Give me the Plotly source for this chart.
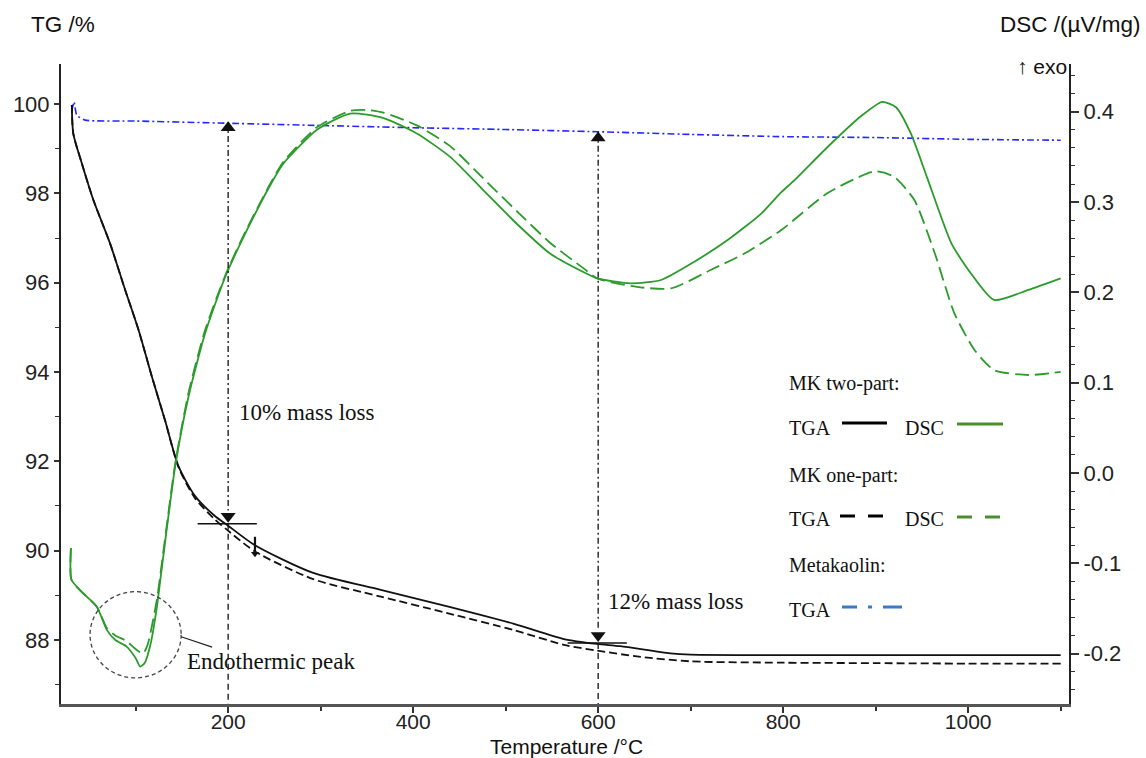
import plotly.graph_objects as go

# ---------------- data ----------------
# MK two-part TGA (solid black), TG %
tga_two_T = [31, 32.6, 41.7, 54.3, 72.3, 88.6, 103, 117.5, 132, 146.3, 164.3, 186, 198.6,
             229, 292, 365, 437, 509, 563, 599, 624, 678, 700, 800, 900, 1000, 1100]
tga_two = [99.98, 99.34, 98.68, 97.85, 96.88, 95.84, 94.95, 93.9, 92.9, 91.89, 91.22, 90.77, 90.58,
           90.12, 89.5, 89.12, 88.75, 88.36, 88.02, 87.91, 87.86, 87.70, 87.67, 87.66, 87.66, 87.66, 87.66]

# MK one-part TGA (dashed black), TG %
tga_one_T = [31, 32.6, 41.7, 54.3, 72.3, 88.6, 103, 117.5, 132, 146.3, 164.3, 186, 198.6,
             229, 292, 365, 437, 509, 563, 599, 646, 700, 800, 900, 1000, 1100]
tga_one = [99.98, 99.34, 98.68, 97.85, 96.88, 95.84, 94.95, 93.9, 92.9, 91.87, 91.17, 90.69, 90.47,
           89.98, 89.36, 88.97, 88.6, 88.22, 87.89, 87.76, 87.62, 87.52, 87.49, 87.48, 87.47, 87.47]

# Metakaolin TGA (blue dash-dot), TG %
mk_T = [31, 33.4, 36.3, 45.3, 100, 200, 300, 400, 500, 600, 700, 800, 900, 1000, 1100]
mk_tga = [99.85, 100.05, 99.75, 99.64, 99.62, 99.57, 99.52, 99.47, 99.43, 99.38, 99.32, 99.27, 99.25, 99.21, 99.19]

# MK two-part DSC (solid green), uV/mg
dsc_two_T = [30, 30.5, 40, 58, 69, 78, 90, 100, 105, 110, 116, 123, 128.3, 142.7, 157.1, 175.2,
             196.8, 218.4, 247.3, 260, 296, 332, 368, 404, 440, 476, 512, 548, 585, 599, 635, 668,
             704, 740, 776, 798, 812, 848, 884, 907, 922, 938, 956, 982, 1003, 1028, 1065, 1100]
dsc_two = [-0.083, -0.118, -0.130, -0.148, -0.174, -0.185, -0.192, -0.205, -0.2145, -0.210, -0.190,
           -0.148, -0.105, 0.007, 0.0845, 0.155, 0.217, 0.265, 0.322, 0.343, 0.380, 0.398, 0.393,
           0.376, 0.350, 0.313, 0.276, 0.243, 0.222, 0.2155, 0.210, 0.2137, 0.234, 0.258, 0.287,
           0.311, 0.324, 0.361, 0.395, 0.411, 0.405, 0.376, 0.326, 0.254, 0.221, 0.1916, 0.2027, 0.2155]

# MK one-part DSC (dashed green), uV/mg
dsc_one_T = [30, 30.5, 40, 58, 69, 78, 90, 100, 108, 113, 123, 128.3, 142.7, 157, 175, 197, 218,
             247, 260, 296, 332, 350, 368, 404, 440, 476, 512, 548, 585, 599, 642, 679, 722, 758,
             798, 848, 899, 920, 942, 964, 985, 1007, 1028, 1065, 1100]
dsc_one = [-0.083, -0.118, -0.130, -0.148, -0.172, -0.180, -0.186, -0.195, -0.200, -0.190, -0.140,
           -0.100, 0.010, 0.088, 0.158, 0.219, 0.266, 0.323, 0.345, 0.383, 0.401, 0.402, 0.399,
           0.385, 0.362, 0.326, 0.290, 0.255, 0.226, 0.2155, 0.206, 0.2045, 0.225, 0.243, 0.269,
           0.310, 0.334, 0.328, 0.302, 0.243, 0.177, 0.136, 0.114, 0.1085, 0.112]

# axis ticks
x_ticks = [200, 400, 600, 800, 1000]
x_minor = [100, 300, 500, 700, 900, 1100]
tg_ticks = [88, 90, 92, 94, 96, 98, 100]
tg_minor = [87, 89, 91, 93, 95, 97, 99]
dsc_ticks = [-0.2, -0.1, 0.0, 0.1, 0.2, 0.3, 0.4]
dsc_ticktext = ['-0.2', '-0.1', '0.0', '0.1', '0.2', '0.3', '0.4']
dsc_minor = [round(-0.24 + 0.02 * i, 2) for i in range(35)]

# mass-loss markers
loss_T = [200, 600]
loss_top = [99.6, 99.38]
loss_level = [90.6, 87.93]
loss_labels = ['10% mass loss', '12% mass loss']

# ---------------- figure ----------------
W, H = 1146, 758
L, R, T, B = 61, 77, 64, 54
PW, PH = W - L - R, H - T - B


def px(x):
    return (x - L) / PW


def py(y):
    return (H - B - y) / PH


SANS = 'Liberation Sans, Arial, sans-serif'
SERIF = 'Liberation Serif, Times New Roman, serif'
GREEN = '#2b9b2b'
BLUE = '#2727ff'

fig = go.Figure()

fig.add_trace(go.Scatter(x=mk_T, y=mk_tga, mode='lines', yaxis='y',
                         line=dict(color=BLUE, width=1.6, dash='7px,3px,2px,3px', shape='spline', smoothing=0.5)))
fig.add_trace(go.Scatter(x=tga_one_T, y=tga_one, mode='lines', yaxis='y',
                         line=dict(color='#111', width=1.8, dash='8px,4px', shape='spline', smoothing=0.7)))
fig.add_trace(go.Scatter(x=tga_two_T, y=tga_two, mode='lines', yaxis='y',
                         line=dict(color='#111', width=1.8, shape='spline', smoothing=0.7)))
fig.add_trace(go.Scatter(x=dsc_one_T, y=dsc_one, mode='lines', yaxis='y2',
                         line=dict(color=GREEN, width=1.8, dash='14px,6px', shape='spline', smoothing=0.6)))
fig.add_trace(go.Scatter(x=dsc_two_T, y=dsc_two, mode='lines', yaxis='y2',
                         line=dict(color=GREEN, width=1.8, shape='spline', smoothing=0.6)))

shapes = []
for t, top, lvl in zip(loss_T, loss_top, loss_level):
    shapes.append(dict(type='line', xref='x', yref='y', x0=t, x1=t, y0=top, y1=lvl + 0.3,
                       line=dict(color='#111', width=1.3, dash='6px,3px,2px,3px')))
    shapes.append(dict(type='line', xref='x', yref='y', x0=t, x1=t, y0=lvl, y1=86.0,
                       line=dict(color='#111', width=1.3, dash='6px,4px')))
    shapes.append(dict(type='line', xref='x', yref='y', x0=t - 33, x1=t + 31, y0=lvl, y1=lvl,
                       line=dict(color='#111', width=1.6)))
# small arrow on the curve near 229 C
shapes.append(dict(type='line', xref='x', yref='y', x0=229, x1=229, y0=90.31, y1=89.95,
                   line=dict(color='#111', width=2.2)))
# dashed circle around endothermic peak
shapes.append(dict(type='circle', xref='x', yref='y', x0=50.7, x1=149.2, y0=87.15, y1=89.08,
                   line=dict(color='#444', width=1.3, dash='4px,3px')))
shapes.append(dict(type='line', xref='x', yref='y', x0=149.2, x1=182.7, y0=88.07, y1=87.84,
                   line=dict(color='#222', width=1.2)))

# legend samples (pixel positions)
def hline(x0, x1, y, color, dash='solid', width=3):
    shapes.append(dict(type='line', xref='paper', yref='paper', x0=px(x0), x1=px(x1), y0=py(y), y1=py(y),
                       line=dict(color=color, width=width, dash=dash)))

LG_GREEN = '#4a8f2c'
LG_BLUE = '#3a7cc4'
hline(842, 887, 423, '#000')
hline(957, 1003, 424, LG_GREEN)
hline(840, 883, 516, '#000', dash='15px,13px')
hline(957, 1000, 517, LG_GREEN, dash='15px,13px')
hline(842, 902, 607, LG_BLUE, dash='15px,11px,4px,11px,19px')

# arrowheads
fig.add_trace(go.Scatter(x=[200, 600], y=[99.47, 99.24], mode='markers', yaxis='y',
                         marker=dict(symbol='triangle-up', size=13, color='#111')))
fig.add_trace(go.Scatter(x=[200, 600], y=[90.77, 88.1], mode='markers', yaxis='y',
                         marker=dict(symbol='triangle-down', size=13, color='#111')))
fig.add_trace(go.Scatter(x=[229], y=[89.93], mode='markers', yaxis='y',
                         marker=dict(symbol='triangle-down', size=7, color='#111')))

annotations = []
annotations.append(dict(x=209.3, y=93.09, xref='x', yref='y', text=loss_labels[0], showarrow=False,
                        xanchor='left', yanchor='middle', font=dict(family=SERIF, size=23, color='#111')))
annotations.append(dict(x=608, y=88.86, xref='x', yref='y', text=loss_labels[1], showarrow=False,
                        xanchor='left', yanchor='middle', font=dict(family=SERIF, size=23, color='#111')))
annotations.append(dict(x=153.5, y=87.51, xref='x', yref='y', text='Endothermic peak', showarrow=False,
                        xanchor='left', yanchor='middle', font=dict(family=SERIF, size=23, color='#111')))


def ptext(x, y, text, size=20, anchor='left', family=SERIF):
    annotations.append(dict(x=px(x), y=py(y), xref='paper', yref='paper', text=text, showarrow=False,
                            xanchor=anchor, yanchor='middle', font=dict(family=family, size=size, color='#111')))


ptext(787, 383, 'MK two-part:')
ptext(787, 428, 'TGA')
ptext(903, 428, 'DSC')
ptext(787, 475, 'MK one-part:')
ptext(787, 519, 'TGA')
ptext(903, 519, 'DSC')
ptext(787, 565, 'Metakaolin:')
ptext(787, 610, 'TGA')

ptext(29, 25, 'TG /%', size=22.5, family=SANS)
ptext(1142, 25, 'DSC /(µV/mg)', size=22.5, anchor='right', family=SANS)
ptext(1069, 67, '↑ exo', size=21, anchor='right', family=SANS)
ptext(566, 746, 'Temperature /°C', size=21, anchor='center', family=SANS)

axis_common = dict(showgrid=False, zeroline=False, showline=True, ticks='outside')
tick_font = dict(family=SANS, size=22, color='#222')

fig.update_layout(
    width=W, height=H, margin=dict(l=L, r=R, t=T, b=B, pad=0),
    plot_bgcolor='white', paper_bgcolor='white', showlegend=False,
    shapes=shapes, annotations=annotations,
    xaxis=dict(range=[19.3, 1109], tickvals=x_ticks, ticklen=6, tickwidth=1.5, tickcolor='#333',
               linecolor='#555', linewidth=2.5, ticklabelstandoff=-9,
               tickfont=dict(family=SANS, size=21, color='#222'),
               minor=dict(tickvals=x_minor, ticks='outside', ticklen=4, tickcolor='#333', tickwidth=1.5),
               **axis_common),
    yaxis=dict(range=[86.565, 100.897], tickvals=tg_ticks, ticklen=5, tickwidth=1.5, tickcolor='#333',
               linecolor='#222', linewidth=2, tickfont=tick_font,
               minor=dict(tickvals=tg_minor, ticks='outside', ticklen=4, tickcolor='#333', tickwidth=1.2),
               **axis_common),
    yaxis2=dict(range=[-0.2558, 0.4529], overlaying='y', side='right', tickvals=dsc_ticks,
                ticktext=dsc_ticktext, ticklen=8, tickwidth=1.5, tickcolor='#333',
                linecolor='#222', linewidth=2, tickfont=tick_font,
                minor=dict(tickvals=dsc_minor, ticks='outside', ticklen=4, tickcolor='#333', tickwidth=1.2),
                **axis_common),
)

fig.write_html('out.html')
